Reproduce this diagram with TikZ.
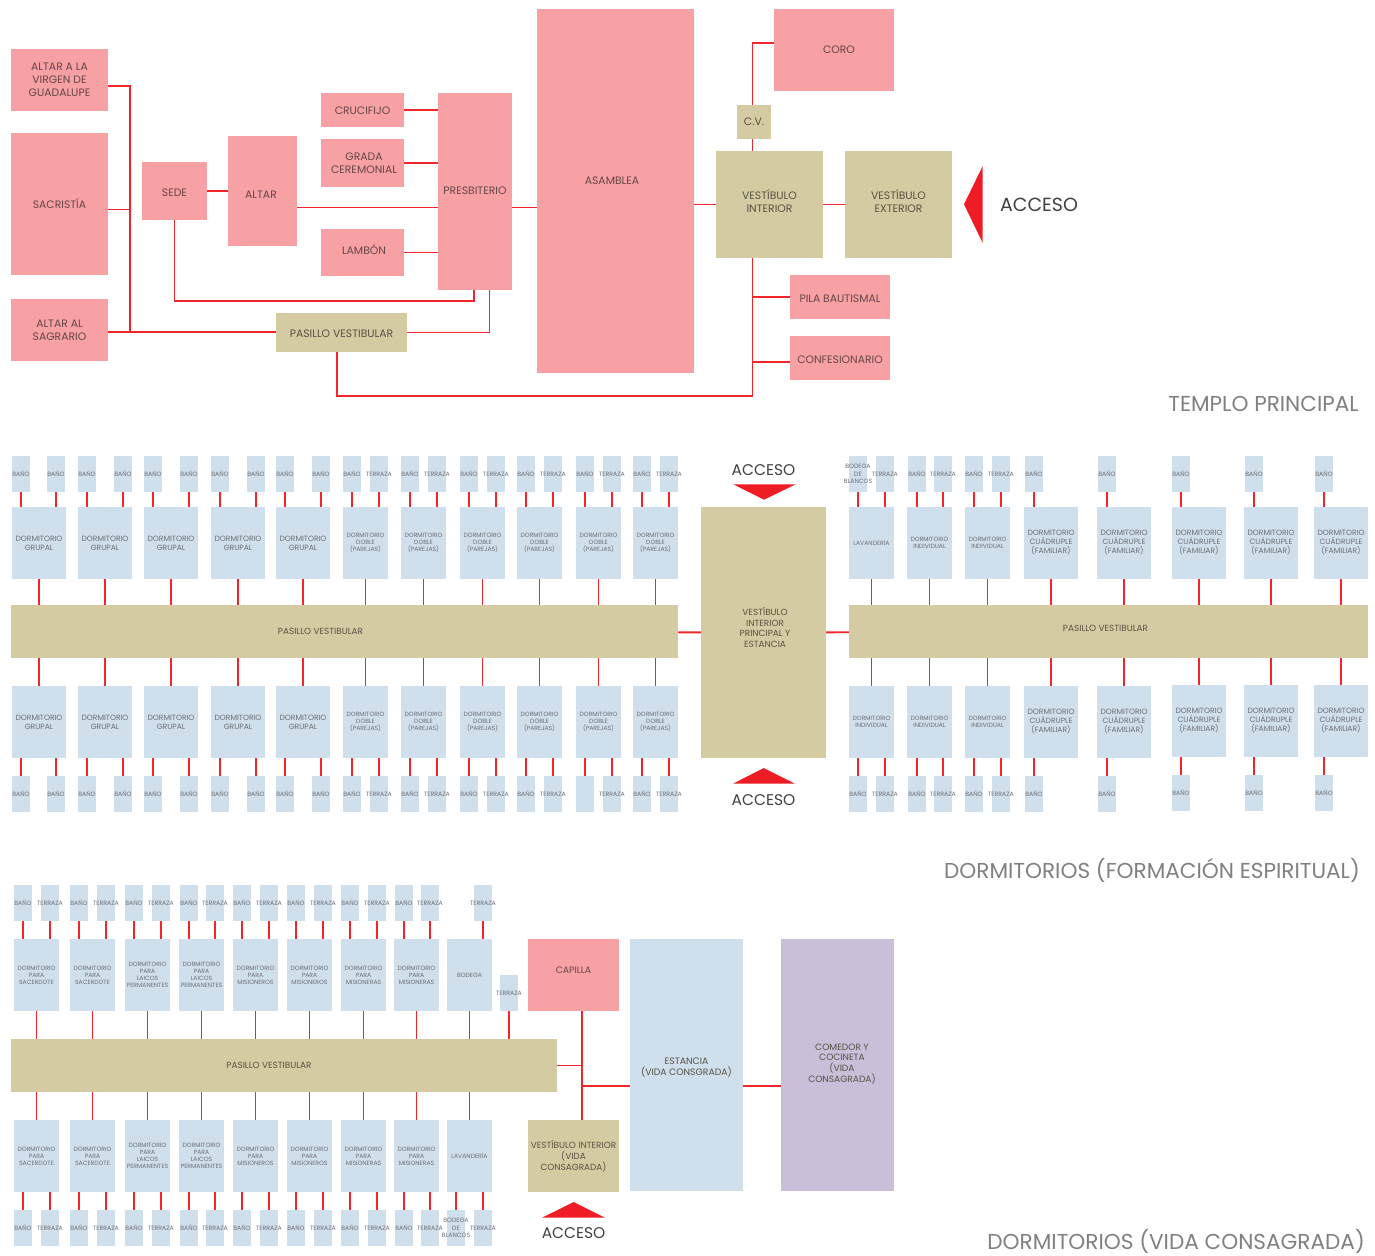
\documentclass[tikz,border=0pt]{standalone}
\usepackage{fontspec}
\setmainfont{Poppins}
\definecolor{roompink}{RGB}{247,161,165}
\definecolor{roomblue}{RGB}{208,223,236}
\definecolor{roomsand}{RGB}{213,203,163}
\definecolor{roomlilac}{RGB}{201,191,217}
\definecolor{linkred}{RGB}{240,38,44}
\definecolor{arrowred}{RGB}{238,28,37}
\definecolor{pinkink}{RGB}{100,70,72}
\definecolor{sandink}{RGB}{88,82,66}
\definecolor{blueink}{RGB}{108,112,118}
\definecolor{headink}{RGB}{64,64,66}
\definecolor{titleink}{RGB}{128,128,130}
\usetikzlibrary{calc}
\tikzset{
    room/.style={inner sep=0pt, outer sep=0pt},
    roomtext/.style={inner sep=0pt, outer sep=0pt, align=center},
    pinkroom/.style={room, fill=roompink},
    pinkroomtext/.style={roomtext, text=pinkink, font=\fontsize{10.8}{13}\selectfont},
    sandroom/.style={room, fill=roomsand},
    sandroomtext/.style={roomtext, text=sandink, font=\fontsize{10.8}{13}\selectfont},
    hallroom/.style={room, fill=roomsand},
    hallroomtext/.style={roomtext, text=sandink, font=\fontsize{8.9}{10.7}\selectfont},
    lilacroom/.style={room, fill=roomlilac},
    lilacroomtext/.style={roomtext, text=sandink, font=\fontsize{9.1}{10.9}\selectfont},
    halfroom/.style={room, fill=roomblue},
    halfroomtext/.style={roomtext, text=sandink, font=\fontsize{9.3}{11}\selectfont},
    dormbig/.style={room, fill=roomblue},
    dormbigtext/.style={roomtext, text=blueink, font=\fontsize{7.6}{9}\selectfont},
    dormsmall/.style={room, fill=roomblue},
    dormsmalltext/.style={roomtext, text=blueink, font=\fontsize{6.1}{7}\selectfont},
    bathroom/.style={room, fill=roomblue},
    bathroomtext/.style={roomtext, text=blueink, font=\fontsize{6.2}{7.2}\selectfont},
    link/.style={draw=linkred, line width=1.9pt},
    headlabel/.style={text=headink, inner sep=0pt, font=\fontsize{19}{22}\selectfont},
    wardlabel/.style={text=headink, inner sep=0pt, font=\fontsize{15.5}{18}\selectfont},
    sectionlabel/.style={text=titleink, inner sep=0pt, anchor=east, font=\fontsize{21.6}{25}\selectfont},
}
\newcommand{\room}[8][]{%
    \node[#2, minimum width=#6pt, minimum height=#7pt, label={[#2text,#1]center:{#8}}] (#3) at ({#4+#6/2},{#5+#7/2}) {};
}
\newcommand{\wingdorm}[9]{%
    \room{#1}{#2}{#3}{#5}{#4}{72}{#8}
    \foreach \bx/\blab [count=\j] in #9 {
        \room{bathroom}{#2b\j}{#3+\bx}{#6}{18}{36}{\blab}
        \draw[link] (#2b\j) -- (#2b\j |- #2.\dormside);
    }
    \draw[link] (#2) -- (#2 |- #7.\dormside);
}
\begin{document}
\begin{tikzpicture}[x=1pt, y=-1pt]
    \useasboundingbox (0,0) rectangle (1375,1255);

    \room{pinkroom}{virgen}{11}{49}{97}{62}{ALTAR A LA\\VIRGEN DE\\GUADALUPE}
    \room{pinkroom}{sacristia}{11}{133}{97}{142}{SACRISTÍA}
    \room{pinkroom}{sagrario}{11}{299}{97}{62}{ALTAR AL\\SAGRARIO}
    \room[yshift=-2pt]{pinkroom}{sede}{142}{162}{65}{58}{SEDE}
    \room[xshift=-1.5pt,yshift=-4pt]{pinkroom}{altar}{228}{136}{69}{110}{ALTAR}
    \room[yshift=-1pt]{pinkroom}{crucifijo}{321}{93}{83}{34}{CRUCIFIJO}
    \room[xshift=1.5pt]{pinkroom}{grada}{321}{139}{83}{48}{GRADA\\CEREMONIAL}
    \room[xshift=1.5pt,yshift=3pt]{pinkroom}{lambon}{321}{229}{83}{47}{LAMBÓN}
    \room[yshift=1pt]{pinkroom}{presbiterio}{438}{93}{74}{197}{PRESBITERIO}
    \room[xshift=-3.5pt,yshift=10.5pt]{pinkroom}{asamblea}{537}{9}{157}{364}{ASAMBLEA}
    \room[xshift=5pt]{pinkroom}{coro}{774}{9}{120}{82}{CORO}
    \room{sandroom}{cv}{737}{105}{34}{34}{C.V.}
    \room[yshift=3pt]{sandroom}{vestint}{716}{151}{107}{107}{VESTÍBULO\\INTERIOR}
    \room[yshift=3pt]{sandroom}{vestext}{845}{151}{107}{107}{VESTÍBULO\\EXTERIOR}
    \room[yshift=-2pt]{pinkroom}{pila}{790}{275}{100}{44}{PILA BAUTISMAL}
    \room[yshift=-2pt]{pinkroom}{confesionario}{790}{336}{100}{44}{CONFESIONARIO}
    \room[yshift=-1pt]{sandroom}{pasillo}{276}{313}{131}{39}{PASILLO VESTIBULAR}

    \coordinate (spinetop) at (130,86);
    \coordinate (spinefoot) at (130,332);
    \coordinate (cruce) at (473.6,300.7);
    \coordinate (retorno) at (489.5,332.5);
    \coordinate (basecorner) at (752.5,395.7);
    \coordinate (corotop) at (752.5,42.7);
    \draw[link] (virgen.east |- spinetop) -- (spinetop) -- (spinefoot);
    \draw[link] (sacristia.east |- 0,209.5) -- (spinefoot |- 0,209.5);
    \draw[link] (sagrario.east |- spinefoot) -- (pasillo.west |- spinefoot);
    \draw[link] (sede) -- (sede -| altar.west);
    \draw[link] (altar.east |- 0,207.5) -- (presbiterio.west |- 0,207.5);
    \draw[link] (crucifijo) -- (crucifijo -| presbiterio.west);
    \draw[link] (grada) -- (grada -| presbiterio.west);
    \draw[link] (lambon) -- (lambon -| presbiterio.west);
    \draw[link] (sede) |- (cruce) -- (cruce |- presbiterio.south);
    \draw[link] (pasillo) -- (retorno) -- (retorno |- presbiterio.south);
    \draw[link] (pasillo.south -| 337,0) |- (basecorner) -- (basecorner |- vestint.south);
    \draw[link] (presbiterio.east |- 0,207.5) -- (asamblea.west |- 0,207.5);
    \draw[link] (vestint) -- (vestint -| asamblea.east);
    \draw[link] (vestint) -- (vestext);
    \draw[link] (coro.west |- corotop) -- (corotop) -- (corotop |- cv.north);
    \draw[link] (corotop |- cv.south) -- (corotop |- vestint.north);
    \draw[link] (pila) -- (pila -| basecorner);
    \draw[link] (confesionario.west |- 0,361.7) -- (basecorner |- 0,361.7);

    \fill[arrowred] (964,204.3) -- (982.7,166) -- (982.7,243) -- cycle;
    \node[headlabel] (accesotemplo) at (1039,205) {ACCESO};
    \node[sectionlabel] (titulotemplo) at (1359,403.5) {TEMPLO PRINCIPAL};

    \room[xshift=-24pt]{hallroom}{hallizq}{11}{605}{667}{53}{PASILLO VESTIBULAR}
    \room[xshift=-3pt,yshift=3pt]{hallroom}{hallder}{849}{605}{519}{53}{PASILLO VESTIBULAR}
    \room[xshift=1.5pt,yshift=5pt]{hallroom}{vestcentral}{701}{507}{125}{251}{VESTÍBULO\\INTERIOR\\PRINCIPAL Y\\ESTANCIA}
    \draw[link] (hallizq) -- (vestcentral);
    \draw[link] (hallder) -- (vestcentral);

    \foreach \wrow/\dormy/\bathy/\dormside/\lost in {t/507/456/north/BAÑO, b/686/776/south/} {
        \foreach \x/\w/\sty/\txt/\baths [count=\i] in {
            12/54/dormbig/{DORMITORIO\\GRUPAL}/{0/BAÑO,35/BAÑO},
            78/54/dormbig/{DORMITORIO\\GRUPAL}/{0/BAÑO,36/BAÑO},
            144/54/dormbig/{DORMITORIO\\GRUPAL}/{0/BAÑO,36/BAÑO},
            211/54/dormbig/{DORMITORIO\\GRUPAL}/{0/BAÑO,36/BAÑO},
            276/54/dormbig/{DORMITORIO\\GRUPAL}/{0/BAÑO,36/BAÑO},
            343/45/dormsmall/{DORMITORIO\\DOBLE\\(PAREJAS)}/{0/BAÑO,27/TERRAZA},
            401/45/dormsmall/{DORMITORIO\\DOBLE\\(PAREJAS)}/{0/BAÑO,27/TERRAZA},
            460/45/dormsmall/{DORMITORIO\\DOBLE\\(PAREJAS)}/{0/BAÑO,27/TERRAZA},
            517/45/dormsmall/{DORMITORIO\\DOBLE\\(PAREJAS)}/{0/BAÑO,27/TERRAZA},
            576/45/dormsmall/{DORMITORIO\\DOBLE\\(PAREJAS)}/{0/\lost,27/TERRAZA},
            633/45/dormsmall/{DORMITORIO\\DOBLE\\(PAREJAS)}/{0/BAÑO,27/TERRAZA}} {
            \wingdorm{\sty}{i\wrow\i}{\x}{\w}{\dormy}{\bathy}{hallizq}{\txt}{\baths}
        }
    }

    \def\dormside{north}
    \foreach \x/\w/\sty/\txt/\baths [count=\i] in {
        849/45/dormsmall/{LAVANDERÍA}/{0/BODEGA\\DE\\BLANCOS,27/TERRAZA},
        907/45/dormsmall/{DORMITORIO\\INDIVIDUAL}/{1/BAÑO,27/TERRAZA},
        965/45/dormsmall/{DORMITORIO\\INDIVIDUAL}/{0/BAÑO,27/TERRAZA},
        1024/54/dormbig/{DORMITORIO\\CUÁDRUPLE\\(FAMILIAR)}/{1/BAÑO},
        1097/54/dormbig/{DORMITORIO\\CUÁDRUPLE\\(FAMILIAR)}/{1/BAÑO},
        1172/54/dormbig/{DORMITORIO\\CUÁDRUPLE\\(FAMILIAR)}/{0/BAÑO},
        1244/54/dormbig/{DORMITORIO\\CUÁDRUPLE\\(FAMILIAR)}/{1/BAÑO},
        1314/54/dormbig/{DORMITORIO\\CUÁDRUPLE\\(FAMILIAR)}/{1/BAÑO}} {
        \wingdorm{\sty}{dt\i}{\x}{\w}{507}{456}{hallder}{\txt}{\baths}
    }
    \def\dormside{south}
    \foreach \x/\w/\sty/\dy/\by/\txt/\baths [count=\i] in {
        849/45/dormsmall/686/776/{DORMITORIO\\INDIVIDUAL}/{0/BAÑO,27/TERRAZA},
        907/45/dormsmall/686/776/{DORMITORIO\\INDIVIDUAL}/{1/BAÑO,27/TERRAZA},
        965/45/dormsmall/686/776/{DORMITORIO\\INDIVIDUAL}/{0/BAÑO,27/TERRAZA},
        1024/54/dormbig/686/776/{DORMITORIO\\CUÁDRUPLE\\(FAMILIAR)}/{1/BAÑO},
        1097/54/dormbig/686/776/{DORMITORIO\\CUÁDRUPLE\\(FAMILIAR)}/{1/BAÑO},
        1172/54/dormbig/685/775/{DORMITORIO\\CUÁDRUPLE\\(FAMILIAR)}/{0/BAÑO},
        1244/54/dormbig/685/775/{DORMITORIO\\CUÁDRUPLE\\(FAMILIAR)}/{1/BAÑO},
        1314/54/dormbig/685/775/{DORMITORIO\\CUÁDRUPLE\\(FAMILIAR)}/{1/BAÑO}} {
        \wingdorm{\sty}{db\i}{\x}{\w}{\dy}{\by}{hallder}{\txt}{\baths}
    }

    \fill[arrowred] (733.3,484.3) -- (795.7,484.3) -- (764,499.7) -- cycle;
    \fill[arrowred] (733,783.7) -- (795,783.7) -- (763.7,768) -- cycle;
    \node[wardlabel] (accesoalto) at (763.5,469.7) {ACCESO};
    \node[wardlabel] (accesobajo) at (763.5,799.7) {ACCESO};
    \node[sectionlabel] (tituloformacion) at (1360,870) {DORMITORIOS (FORMACIÓN ESPIRITUAL)};

    \room[xshift=-15pt]{hallroom}{hallvida}{11}{1039}{546}{53}{PASILLO VESTIBULAR}
    \room[yshift=5pt,font=\fontsize{9.3}{11}\selectfont]{pinkroom}{capilla}{528}{939}{91}{72}{CAPILLA}
    \room{hallroom}{vestvida}{528}{1120}{91}{72}{VESTÍBULO INTERIOR\\(VIDA\\CONSAGRADA)}
    \room[yshift=-3pt]{halfroom}{estancia}{630}{939}{113}{252}{ESTANCIA\\(VIDA CONSGRADA)}
    \room[xshift=4.5pt,yshift=1pt]{lilacroom}{comedor}{781}{939}{113}{252}{COMEDOR Y\\COCINETA\\(VIDA\\CONSAGRADA)}
    \room{bathroom}{terrazasuelta}{500}{975}{18}{36}{TERRAZA}
    \coordinate (vidaspine) at (582,1065.5);
    \coordinate (vidajoin) at (582,1085.7);
    \draw[link] (capilla.south -| vidaspine) -- (vestvida.north -| vidaspine);
    \draw[link] (hallvida.east |- vidaspine) -- (vidaspine);
    \draw[link] (vidajoin) -- (estancia.west |- vidajoin);
    \draw[link] (estancia.east |- vidajoin) -- (comedor.west |- vidajoin);
    \draw[link] (terrazasuelta) -- (terrazasuelta |- hallvida.north);

    \foreach \wrow/\dormy/\bathy/\dormside/\lastroom/\lastbaths in {
        t/939/885/north/{BODEGA}/{27/TERRAZA},
        b/1120/1210/south/{LAVANDERÍA}/{0/BODEGA\\DE\\BLANCOS,27/TERRAZA}} {
        \foreach \x/\txt/\baths [count=\i] in {
            14/{DORMITORIO\\PARA\\SACERDOTE}/{0/BAÑO,27/TERRAZA},
            70/{DORMITORIO\\PARA\\SACERDOTE}/{0/BAÑO,27/TERRAZA},
            125/{DORMITORIO\\PARA\\LAICOS\\PERMANENTES}/{0/BAÑO,27/TERRAZA},
            179/{DORMITORIO\\PARA\\LAICOS\\PERMANENTES}/{1/BAÑO,27/TERRAZA},
            233/{DORMITORIO\\PARA\\MISIONEROS}/{0/BAÑO,27/TERRAZA},
            287/{DORMITORIO\\PARA\\MISIONEROS}/{0/BAÑO,27/TERRAZA},
            341/{DORMITORIO\\PARA\\MISIONERAS}/{0/BAÑO,27/TERRAZA},
            394/{DORMITORIO\\PARA\\MISIONERAS}/{1/BAÑO,27/TERRAZA},
            447/{\lastroom}/{\lastbaths}} {
            \ifnum\i=9
                \wingdorm{dormsmall}{v\wrow\i}{\x}{45}{\dormy}{\bathy}{hallvida}{\txt}{\lastbaths}
            \else
                \wingdorm{dormsmall}{v\wrow\i}{\x}{45}{\dormy}{\bathy}{hallvida}{\txt}{\baths}
            \fi
        }
    }

    \fill[arrowred] (542,1217.7) -- (605,1217.7) -- (573.6,1202) -- cycle;
    \node[wardlabel] (accesovida) at (573.6,1232.7) {ACCESO};
    \node[sectionlabel] (titulovida) at (1365,1241) {DORMITORIOS (VIDA CONSAGRADA)};
\end{tikzpicture}
\end{document}
